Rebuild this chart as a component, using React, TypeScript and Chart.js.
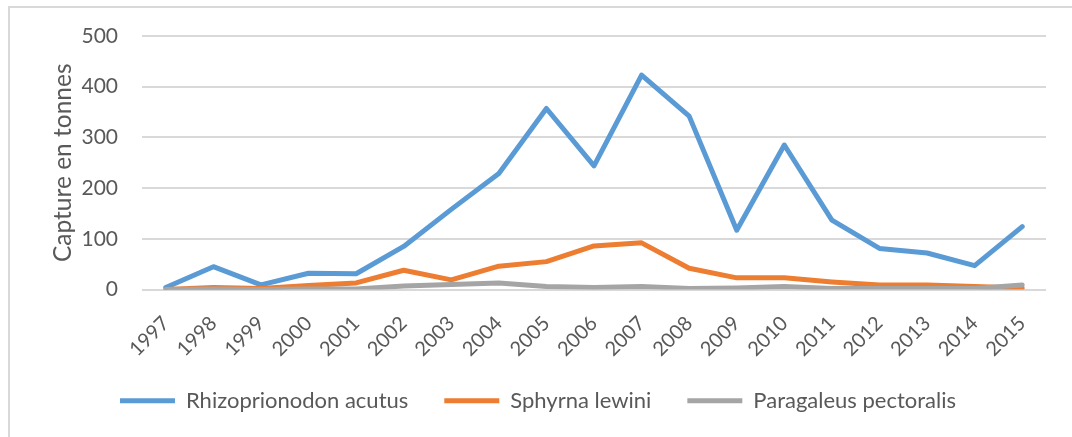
import React, { useEffect, useRef } from 'react';
import { Chart, registerables } from 'chart.js';

Chart.register(...registerables);

const years = ['1997', '1998', '1999', '2000', '2001', '2002', '2003', '2004', '2005', '2006', '2007', '2008', '2009', '2010', '2011', '2012', '2013', '2014', '2015'];
const rhizoprionodonAcutus = [4, 45, 9, 32, 31, 85, 158, 229, 357, 244, 423, 342, 117, 285, 137, 81, 72, 47, 124];
const sphyrnaLewini = [0, 4, 2, 8, 13, 38, 19, 46, 55, 86, 92, 42, 23, 23, 15, 9, 9, 6, 3];
const paragaleusPectoralis = [0, 1, 0, 1, 1, 7, 10, 13, 6, 4, 6, 2, 3, 6, 2, 2, 2, 2, 9];
const seriesNames = ['Rhizoprionodon acutus', 'Sphyrna lewini', 'Paragaleus pectoralis'];
const seriesColors = ['#5B9BD5', '#ED7D31', '#A5A5A5'];
const yMin = 0;
const yMax = 500;
const yStep = 100;
const yTitle = 'Capture en tonnes';

const TEXT = '#595959';
const FONT = 'Lato, "Open Sans", sans-serif';

export default function App() {
  const ref = useRef<HTMLCanvasElement | null>(null);

  useEffect(() => {
    if (!ref.current) return;
    const values = [rhizoprionodonAcutus, sphyrnaLewini, paragaleusPectoralis];
    const chart = new Chart(ref.current, {
      type: 'line',
      data: {
        labels: years,
        datasets: values.map((v, i) => ({
          label: seriesNames[i],
          data: v,
          borderColor: seriesColors[i],
          backgroundColor: seriesColors[i],
          borderWidth: 5,
          pointRadius: 0,
          pointHoverRadius: 0,
          tension: 0,
          borderJoinStyle: 'round' as const,
          borderCapStyle: 'round' as const,
          fill: false,
          order: 3 - i,
        })),
      },
      options: {
        responsive: false,
        animation: false,
        layout: { padding: { top: 28, left: 20, right: 41, bottom: 31.3 } },
        font: { family: FONT },
        plugins: {
          tooltip: { enabled: false },
          legend: {
            position: 'bottom',
            labels: {
              color: TEXT,
              font: { family: FONT, size: 22 },
              boxWidth: 55,
              boxHeight: 5,
              padding: 36,
              generateLabels: (c: any) =>
                c.data.datasets.map((d: any, i: number) => ({
                  text: d.label,
                  fillStyle: d.borderColor,
                  strokeStyle: d.borderColor,
                  lineWidth: 0,
                  hidden: false,
                  datasetIndex: i,
                  fontColor: TEXT,
                })),
            },
          },
        },
        scales: {
          x: {
            offset: true,
            grid: { display: false, drawTicks: false },
            border: { display: false },
            ticks: {
              color: TEXT,
              font: { family: FONT, size: 20 },
              minRotation: 45,
              maxRotation: 45,
              autoSkip: false,
              padding: 22,
            },
            afterFit: (s: any) => {
              s.height = 64.2;
              // let the rotated year labels run below the axis box without clipping
              s._computeLabelArea = () => undefined;
            },
          },
          y: {
            min: yMin,
            max: yMax,
            grid: { color: '#d9d9d9', lineWidth: 2, drawTicks: true, tickLength: 20, tickColor: 'rgba(0,0,0,0)' },
            border: { display: false },
            ticks: {
              stepSize: yStep,
              color: TEXT,
              font: { family: FONT, size: 21 },
              padding: 4,
            },
            title: {
              display: true,
              text: yTitle,
              color: TEXT,
              font: { family: FONT, size: 24.5, lineHeight: 1 },
              padding: { top: 20.75, bottom: 0 },
            },
            afterFit: (s: any) => {
              s.width = 112;
            },
          },
        },
      },
    });
    return () => chart.destroy();
  }, []);

  return (
    <div style={{ position: 'fixed', left: 0, top: 0, width: 1072, height: 437, overflow: 'hidden', background: '#fff' }}>
      <div style={{ position: 'absolute', left: 8, top: 6, width: 1077, height: 445, border: '2px solid #d9d9d9' }}>
        <canvas ref={ref} width={1077} height={445} style={{ display: 'block', width: 1077, height: 445 }} />
      </div>
    </div>
  );
}
